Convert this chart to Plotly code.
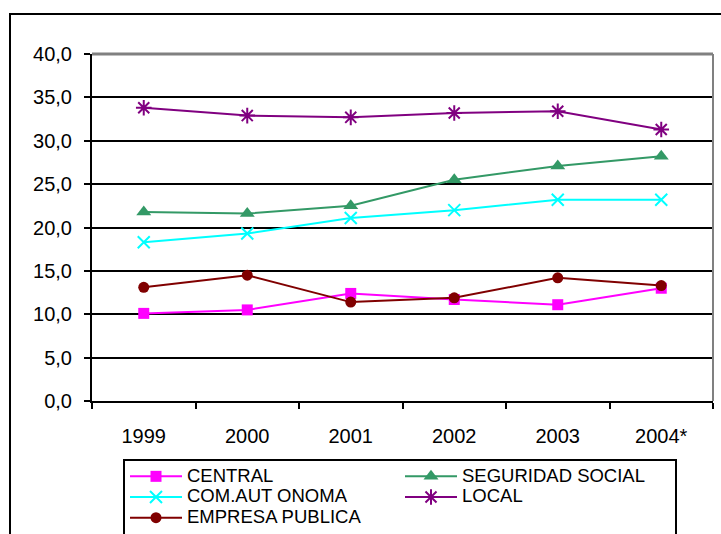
import plotly.graph_objects as go

years = ["1999", "2000", "2001", "2002", "2003", "2004*"]
central = [10.1, 10.5, 12.4, 11.7, 11.1, 13.0]
seguridad_social = [21.8, 21.6, 22.5, 25.5, 27.1, 28.2]
com_autonoma = [18.3, 19.3, 21.1, 22.0, 23.2, 23.2]
local = [33.8, 32.9, 32.7, 33.2, 33.4, 31.3]
empresa_publica = [13.1, 14.5, 11.4, 11.9, 14.2, 13.3]
y_ticks = [0, 5, 10, 15, 20, 25, 30, 35, 40]
y_tick_labels = ["0,0", "5,0", "10,0", "15,0", "20,0", "25,0", "30,0", "35,0", "40,0"]

FONT = "Liberation Sans, Arial, sans-serif"

series = [
    ("CENTRAL", central, "#FF00FF", "square", 11, None),
    ("SEGURIDAD SOCIAL", seguridad_social, "#339966", "triangle-up", 13, None),
    ("COM.AUT ONOMA", com_autonoma, "#00FFFF", "x-thin", 12, 2),
    ("LOCAL", local, "#800080", "asterisk", 13, 2),
    ("EMPRESA PUBLICA", empresa_publica, "#800000", "circle", 11, None),
]

fig = go.Figure()
for name, vals, color, sym, size, lw in series:
    marker = dict(symbol=sym, size=size, color=color)
    if lw:
        marker["line"] = dict(color=color, width=lw)
    fig.add_trace(go.Scatter(
        x=years, y=vals, mode="lines+markers",
        name='<span style="font-size:18.5px">' + name + "</span>",
        line=dict(color=color, width=2), marker=marker,
    ))

W, H = 721, 534
L, R, T, B = 92, 8, 54, 133
pw, ph = W - L - R, H - T - B

def px(x):
    return (x - L) / pw

def py(y):
    return (H - B - y) / ph

fig.update_layout(
    width=W, height=H,
    margin=dict(l=L, r=R, t=T, b=B, autoexpand=False),
    paper_bgcolor="white", plot_bgcolor="white",
    font=dict(family=FONT, size=20, color="black"),
    showlegend=True,
    legend=dict(
        orientation="h", x=px(123), y=py(459), xanchor="left", yanchor="top",
        bordercolor="black", borderwidth=2, entrywidth=208, entrywidthmode="pixels",
        itemwidth=52,
        font=dict(family=FONT, size=13.6, color="black"),
        tracegroupgap=0,
    ),
    xaxis=dict(
        type="category", range=[-0.5, 5.5], showgrid=False,
        showline=True, linecolor="black", linewidth=2,
        ticks="outside", ticklen=6, tickcolor="black", tickwidth=2,
        tickson="boundaries", ticklabelstandoff=16,
        tickfont=dict(family=FONT, size=20),
        mirror=False, zeroline=False,
    ),
    yaxis=dict(
        range=[0, 40], tickvals=y_ticks, ticktext=y_tick_labels,
        showgrid=True, gridcolor="black", gridwidth=2,
        showline=True, linecolor="black", linewidth=2,
        ticks="outside", ticklen=6, tickcolor="black", tickwidth=2,
        ticklabelstandoff=8,
        tickfont=dict(family=FONT, size=20), zeroline=False,
    ),
    shapes=[
        dict(type="line", xref="paper", yref="paper", x0=0, x1=1, y0=1, y1=1,
             line=dict(color="#808080", width=3)),
        dict(type="line", xref="paper", yref="paper", x0=1, x1=1, y0=0, y1=1,
             line=dict(color="#808080", width=2)),
        dict(type="rect", xref="paper", yref="paper",
             x0=px(10), x1=px(760), y0=py(600), y1=py(14),
             line=dict(color="black", width=2), fillcolor="rgba(0,0,0,0)", layer="above"),
    ],
)

fig.write_html("out.html", config={"displayModeBar": False},
               post_script="document.body.style.margin='0';")
